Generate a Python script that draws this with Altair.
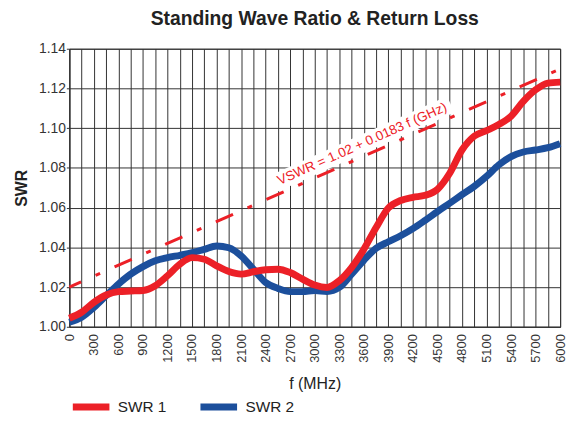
import altair as alt
import pandas as pd

# ---------------- data ----------------
freq = [0, 150, 300, 450, 600, 750, 900, 1050, 1200, 1350, 1500, 1650, 1800, 1950,
        2100, 2250, 2400, 2550, 2700, 2850, 3000, 3150, 3300, 3450, 3600, 3750,
        3900, 4050, 4200, 4350, 4500, 4650, 4800, 4950, 5100, 5250, 5400, 5550,
        5700, 5850, 6000]

swr1 = [1.0043, 1.0073, 1.0123, 1.0160, 1.0177, 1.0180, 1.0183, 1.0207, 1.0257,
        1.0315, 1.0348, 1.0340, 1.0307, 1.0278, 1.0265, 1.0277, 1.0287, 1.0290,
        1.0273, 1.0240, 1.0210, 1.0198, 1.0232, 1.0298, 1.0390, 1.0500, 1.0598,
        1.0636, 1.0652, 1.0662, 1.0692, 1.0773, 1.0890, 1.0960, 1.0988, 1.1018,
        1.1060, 1.1135, 1.1193, 1.1227, 1.1232]

swr2 = [1.0023, 1.0048, 1.0098, 1.0157, 1.0215, 1.0265, 1.0303, 1.0332, 1.0348,
        1.0360, 1.0373, 1.0390, 1.0407, 1.0398, 1.0357, 1.0290, 1.0223, 1.0193,
        1.0177, 1.0177, 1.0182, 1.0178, 1.0198, 1.0265, 1.0335, 1.0395, 1.0428,
        1.0458, 1.0494, 1.0536, 1.0580, 1.0622, 1.0665, 1.0707, 1.0757, 1.0815,
        1.0857, 1.0880, 1.0890, 1.0902, 1.0922]

series_names = ["SWR 1", "SWR 2"]

# reference limit line  VSWR = 1.02 + 0.0183 f(GHz)
ref_f = [0, 6000]
ref_v = [1.02, 1.1298]

# annotation
label_text = ["VSWR = 1.02 + 0.0183 f (GHz)"]
label_f = [3580]
label_v = [1.092]
band_f = [2498, 4663]
band_v = [1.07205, 1.11195]

x_ticks = list(range(0, 6001, 150))
y_ticks = [1.00, 1.02, 1.04, 1.06, 1.08, 1.10, 1.12, 1.14]

# ---------------- styling ----------------
FONT = "Liberation Sans"
RED = "#EC2027"
BLUE = "#1C4F9C"
GRID = "#333333"

df = pd.DataFrame({
    "f": freq * 2,
    "swr": swr1 + swr2,
    "series": [series_names[0]] * len(freq) + [series_names[1]] * len(freq),
})
ref_df = pd.DataFrame({"f": ref_f, "swr": ref_v})
band_df = pd.DataFrame({"f": band_f, "swr": band_v})
lab_df = pd.DataFrame({"f": label_f, "swr": label_v, "t": label_text})

x_enc = alt.X(
    "f:Q",
    scale=alt.Scale(domain=[0, 6000], nice=False, zero=False),
    axis=alt.Axis(
        values=x_ticks,
        labelExpr="datum.value % 300 == 0 ? datum.label : ''",
        format="d",
        labelAngle=270,
        labelFontSize=13,
        labelPadding=7,
        labelOverlap=False,
        labelFlush=False,
        tickSize=0,
        grid=True,
        gridColor=GRID,
        gridWidth=1,
        gridOpacity=1,
        domainColor=GRID,
        title="f (MHz)",
        titleFontSize=16,
        titleFontWeight="normal",
        titleX=248,
        titleY=57,
        titleBaseline="middle",
        titleAlign="center",
    ),
)
y_enc = alt.Y(
    "swr:Q",
    scale=alt.Scale(domain=[1.0, 1.14], nice=False, zero=False),
    axis=alt.Axis(
        values=y_ticks,
        format=".2f",
        labelFontSize=14,
        labelPadding=1,
        labelOverlap=False,
        labelFlush=False,
        tickSize=3,
        tickColor=GRID,
        grid=True,
        gridColor=GRID,
        gridWidth=1,
        gridOpacity=1,
        domainColor=GRID,
        title="SWR",
        titleFontSize=16,
        titleFontWeight="bold",
        titleAngle=270,
        titleX=-48,
        titleY=140.5,
        titleBaseline="middle",
        titleAlign="center",
    ),
)

color_enc = alt.Color(
    "series:N",
    scale=alt.Scale(domain=series_names, range=[RED, BLUE]),
    legend=alt.Legend(
        title=None,
        orient="none",
        legendX=0,
        legendY=340,
        direction="horizontal",
        symbolType="stroke",
        symbolSize=1369,
        symbolStrokeWidth=7,
        labelFontSize=15.5,
        labelOffset=5,
        columnPadding=19,
        labelColor="#222222",
        labelFont=FONT,
        padding=0,
    ),
)

band = alt.Chart(band_df).mark_line(color="white", strokeWidth=18, strokeCap="butt").encode(
    x=x_enc, y=y_enc
)
ref_line = alt.Chart(ref_df).mark_line(
    color=RED, strokeWidth=3, strokeDash=[19, 16, 5, 16], strokeDashOffset=6
).encode(x=x_enc, y=y_enc)
label = alt.Chart(lab_df).mark_text(
    color=RED, fontSize=13.5, angle=336, align="center", baseline="middle", font=FONT
).encode(x=x_enc, y=y_enc, text="t:N")

blue_line = alt.Chart(df).transform_filter(
    alt.datum.series == series_names[1]
).mark_line(strokeWidth=7, interpolate="monotone").encode(x=x_enc, y=y_enc, color=color_enc)
red_line = alt.Chart(df).transform_filter(
    alt.datum.series == series_names[0]
).mark_line(strokeWidth=7, interpolate="monotone").encode(x=x_enc, y=y_enc, color=color_enc)

chart = alt.layer(band, ref_line, label, blue_line, red_line).properties(
    width=496,
    height=281,
    padding={"left": 62, "top": 39, "right": 13, "bottom": 87},
    autosize=alt.AutoSizeParams(type="none"),
    background="white",
    title=alt.TitleParams(
        "Standing Wave Ratio & Return Loss",
        fontSize=19.5,
        fontWeight="bold",
        font=FONT,
        color="#222222",
        anchor="middle",
        frame="group",
        baseline="top",
        offset=12,
    ),
).configure_view(
    stroke=GRID, strokeWidth=1
).configure_axis(
    labelFont=FONT,
    titleFont=FONT,
    labelColor="#333333",
    titleColor="#222222",
)

chart.save("out.html", embed_options={"renderer": "svg", "actions": False})
